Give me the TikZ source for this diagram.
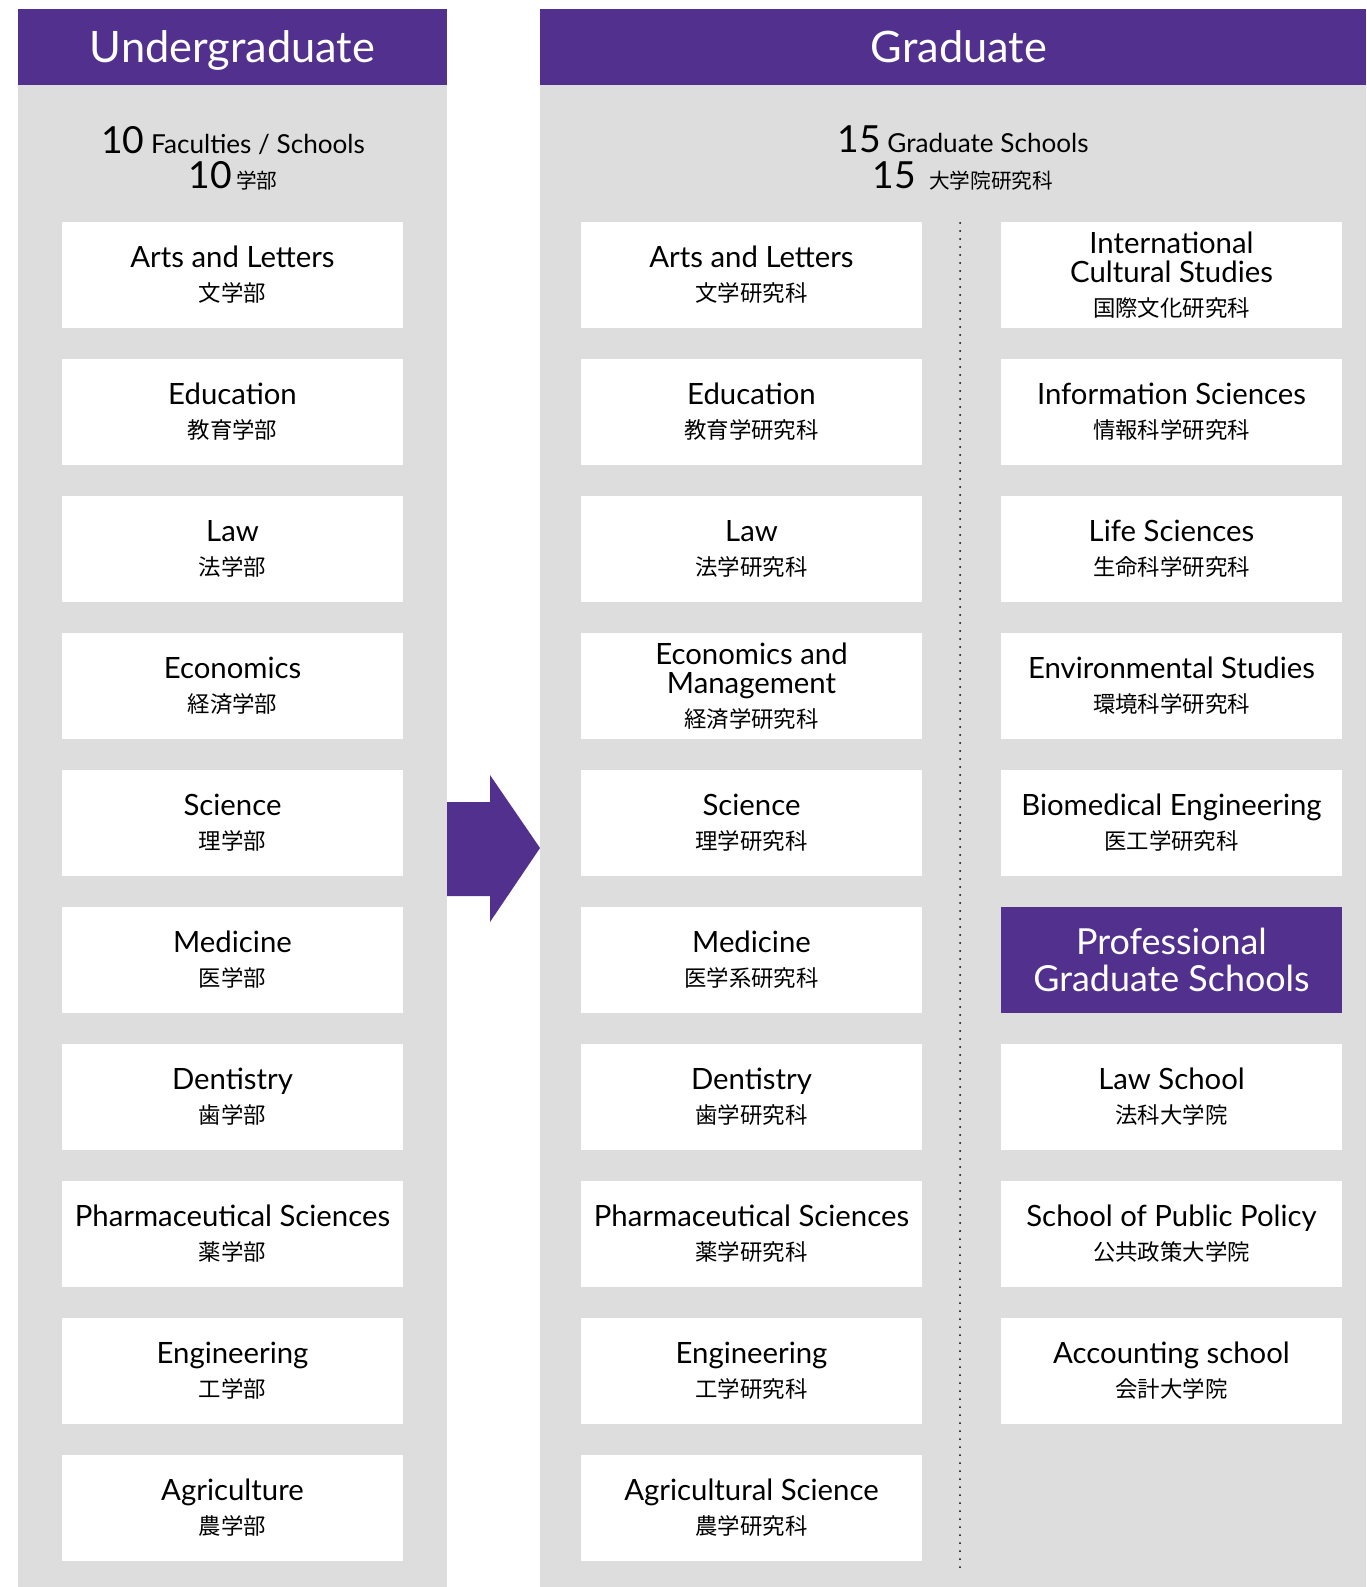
\documentclass[tikz,border=0pt]{standalone}
\usepackage{fontspec}
\setmainfont{Lato}
\newfontfamily\ja{Noto Sans CJK JP}
\usetikzlibrary{positioning}
\definecolor{univviolet}{RGB}{82,49,142}
\definecolor{panelgray}{RGB}{220,221,220}
\tikzset{
    school/.style={
        fill=white,
        minimum width=255.75pt,
        minimum height=79.5pt,
        inner sep=0pt,
        align=center,
        font=\fontsize{22}{22}\selectfont
    },
    banner/.style={
        text=white,
        inner sep=0pt,
        text height=23pt,
        text depth=0pt,
        font=\fontsize{32.5}{34}\selectfont
    },
    count/.style={
        align=center,
        inner sep=0pt,
        font=\fontsize{19.6}{26.5}\selectfont
    }
}
\newcommand{\jline}[1]{{\ja\fontsize{16.8}{18}\selectfont #1}}
\newcommand{\bignum}[1]{{\fontsize{28}{30}\selectfont #1}}

\begin{document}
\begin{tikzpicture}[x=0.75pt, y=-0.75pt]
\useasboundingbox (0,0) rectangle (1366,1587);

% panels
\fill[panelgray] (18,9) rectangle (447,1587);
\fill[panelgray] (540,9) rectangle (1366,1587);
\fill[univviolet] (18,9) rectangle (447,85);
\fill[univviolet] (540,9) rectangle (1366,85);

\node[banner] (ughead) at (232.5,47) {Undergraduate};
\node[banner] (grhead) at (959,47)   {Graduate};

\node[count] (ugcount) at (233,158)
    {\bignum{10} Faculties / Schools\\
     \bignum{10}\,{\ja\fontsize{15.5}{18}\selectfont 学部}};
\node[count] (grcount) at (963,158)
    {\bignum{15} Graduate Schools\\
     \bignum{15}\enspace{\ja\fontsize{15.5}{18}\selectfont 大学院研究科}};

% undergraduate faculties
\foreach \en/\jt [count=\i] in {
    Arts and Letters/文学部, Education/教育学部, Law/法学部, Economics/経済学部,
    Science/理学部, Medicine/医学部, Dentistry/歯学部,
    Pharmaceutical Sciences/薬学部, Engineering/工学部, Agriculture/農学部}
    \node[school] (u\i) at (232.5,{275+137*(\i-1)}) {\en\\[3.5pt]\jline{\jt}};

% graduate schools
\foreach \en/\jt [count=\i] in {
    Arts and Letters/文学研究科, Education/教育学研究科, Law/法学研究科,
    {Economics and\\Management}/経済学研究科, Science/理学研究科,
    Medicine/医学系研究科, Dentistry/歯学研究科,
    Pharmaceutical Sciences/薬学研究科, Engineering/工学研究科,
    Agricultural Science/農学研究科}
    \node[school] (g\i) at (751.5,{275+137*(\i-1)}) {\en\\[3.5pt]\jline{\jt}};

\foreach \en/\jt [count=\i] in {
    {International\\Cultural Studies}/国際文化研究科,
    Information Sciences/情報科学研究科, Life Sciences/生命科学研究科,
    Environmental Studies/環境科学研究科, Biomedical Engineering/医工学研究科}
    \node[school] (r\i) at (1171.5,{275+137*(\i-1)}) {\en\\[3.5pt]\jline{\jt}};

\node[school, fill=univviolet, text=white, font=\fontsize{26.9}{28}\selectfont]
    (r6) at (1171.5,960) {Professional\\Graduate Schools};

\foreach \en/\jt [count=\i from 7] in {
    Law School/法科大学院, School of Public Policy/公共政策大学院,
    Accounting school/会計大学院}
    \node[school] (r\i) at (1171.5,{275+137*(\i-1)}) {\en\\[3.5pt]\jline{\jt}};

% divider
\coordinate (divtop) at (960,223);
\coordinate (divbot) at (960,1570);
\draw[line width=1.5pt, line cap=round, dash pattern=on 0pt off 6pt] (divtop) -- (divbot);

% arrow
\fill[univviolet] (447,802) -- (490,802) -- (490,775) -- (540,848)
    -- (490,922) -- (490,896) -- (447,896) -- cycle;

\end{tikzpicture}
\end{document}
